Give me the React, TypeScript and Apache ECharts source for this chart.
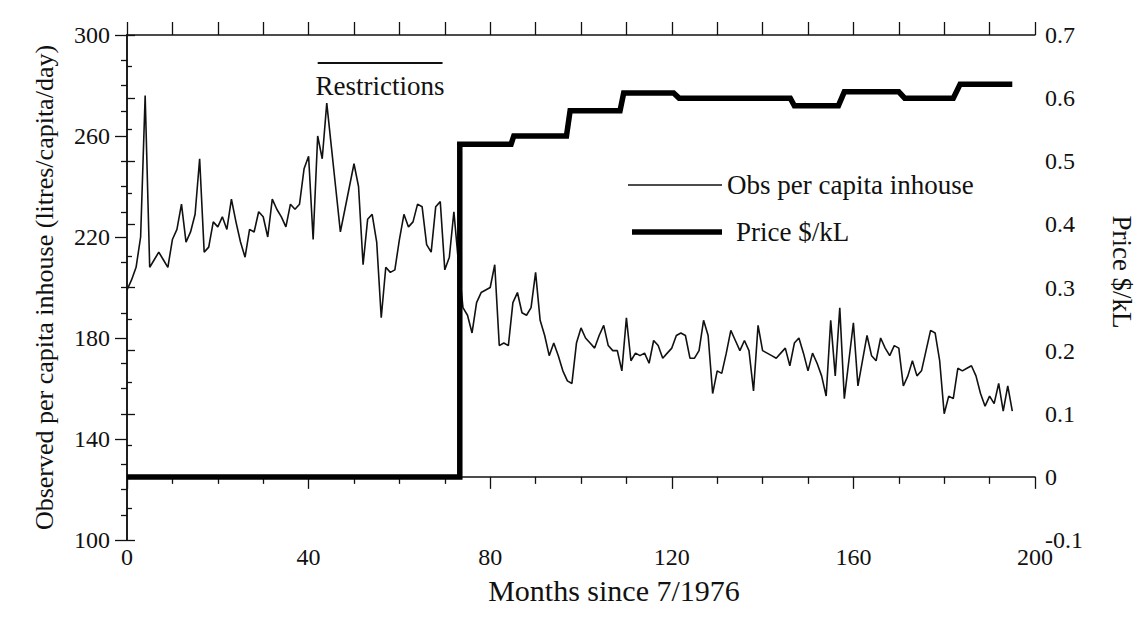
import React, { useEffect, useRef } from "react";
import * as echarts from "echarts";

// Observed per capita in-house use (litres/capita/day), monthly from month 0
const obsValues: number[] = [
  199, 203, 208, 220, 276, 208, 211, 214, 211, 208,
  219, 223, 233, 218, 222, 229, 251, 214, 216, 226,
  224, 228, 223, 235, 226, 218, 212, 223, 222, 230,
  228, 220, 235, 231, 228, 224, 233, 231, 233, 247,
  252, 219, 260, 251, 273, 256, 239, 222, 231, 240,
  249, 240, 209, 227, 229, 218, 188, 208, 206, 207,
  219, 229, 224, 226, 233, 232, 217, 214, 232, 234,
  207, 212, 230, 210, 192, 189, 182, 194, 198, 199,
  200, 209, 177, 178, 177, 194, 198, 190, 189, 192,
  206, 187, 181, 173, 178, 173, 167, 163, 162, 178,
  184, 180, 178, 176, 181, 185, 177, 175, 175, 167,
  188, 171, 174, 173, 174, 170, 179, 177, 172, 174,
  176, 181, 182, 181, 172, 172, 175, 187, 181, 158,
  167, 166, 174, 183, 179, 175, 179, 175, 159, 185,
  175, 174, 173, 172, 174, 176, 169, 178, 180, 174,
  167, 174, 170, 165, 157, 187, 165, 192, 156, 171,
  186, 161, 171, 181, 173, 171, 180, 176, 173, 177,
  176, 161, 165, 171, 165, 167, 175, 183, 182, 171,
  150, 157, 156, 168, 167, 168, 169, 165, 158, 153,
  157, 154, 162, 151, 161, 151,
];

// Price ($/kL) as step vertices: month and price
const priceMonths: number[] = [
  0, 73.3, 73.3, 84.6, 85.2, 96.8, 97.6, 108.6, 109.4, 120.4,
  121.6, 146.1, 147, 156.7, 158, 170, 171.3, 182, 183.5, 195,
];
const priceValues: number[] = [
  0, 0, 0.527, 0.527, 0.54, 0.54, 0.58, 0.58, 0.608, 0.608,
  0.6, 0.6, 0.588, 0.588, 0.61, 0.61, 0.6, 0.6, 0.622, 0.622,
];

// Restrictions period annotation
const restrictionMonths: number[] = [42, 69.5];
const restrictionLevel = 289;
const restrictionLabel = "Restrictions";

// Axes
const xRange: number[] = [0, 200];
const leftRange: number[] = [100, 300];
const rightRange: number[] = [-0.1, 0.7];

const seriesNames: string[] = ["Obs per capita inhouse", "Price $/kL"];
const xName = "Months since 7/1976";
const leftName = "Observed per capita inhouse (litres/capita/day)";
const rightName = "Price $/kL";

const FONT = "'Liberation Serif', 'Times New Roman', serif";
const INK = "#111";

export default function App() {
  const ref = useRef<HTMLDivElement>(null);

  useEffect(() => {
    if (!ref.current) return;
    const chart = echarts.init(ref.current, null, { renderer: "svg" });

    const axisLine = { show: true, lineStyle: { color: INK, width: 1.5 } };
    const tickStyle = { color: INK, width: 1.3 };
    const numStyle = { fontFamily: FONT, fontSize: 24, color: INK };
    const textStyle = { fontFamily: FONT, fontSize: 27, color: INK };

    chart.setOption({
      animation: false,
      backgroundColor: "#fff",
      grid: { left: 127, right: 104, top: 35, bottom: 78, containLabel: false },
      xAxis: [
        {
          type: "value",
          position: "bottom",
          min: xRange[0],
          max: xRange[1],
          interval: 40,
          axisLine,
          axisTick: { show: true, inside: false, length: 12, lineStyle: tickStyle },
          minorTick: { show: true, splitNumber: 4, length: 7, lineStyle: tickStyle },
          axisLabel: { ...numStyle, margin: 5 },
          splitLine: { show: false },
        },
        {
          type: "value",
          position: "top",
          min: xRange[0],
          max: xRange[1],
          interval: 10,
          axisLine,
          axisTick: { show: true, inside: false, length: 13, lineStyle: tickStyle },
          axisLabel: { show: false },
          splitLine: { show: false },
        },
      ],
      yAxis: [
        {
          type: "value",
          position: "left",
          min: leftRange[0],
          max: leftRange[1],
          interval: 40,
          axisLine,
          axisTick: { show: true, inside: false, length: 12, lineStyle: tickStyle },
          minorTick: { show: true, splitNumber: 4, length: 6, lineStyle: tickStyle },
          axisLabel: { ...numStyle, margin: 17 },
          splitLine: { show: false },
          name: leftName,
          nameLocation: "middle",
          nameRotate: 90,
          nameGap: 70,
          nameTextStyle: { ...textStyle, fontSize: 26 },
        },
        {
          type: "value",
          position: "right",
          min: rightRange[0],
          max: rightRange[1],
          interval: 0.1,
          axisLine,
          axisTick: { show: true, inside: false, length: 8, lineStyle: tickStyle },
          minorTick: { show: true, splitNumber: 2, length: 5, lineStyle: tickStyle },
          axisLabel: {
            ...numStyle,
            margin: 10,
            formatter: (v: number) => {
              const r = Math.round(v * 10) / 10;
              return Math.abs(r) < 1e-9 ? "0" : String(r);
            },
          },
          splitLine: { show: false },
        },
      ],
      series: [
        {
          name: seriesNames[0],
          type: "line",
          xAxisIndex: 0,
          yAxisIndex: 0,
          symbol: "none",
          data: obsValues.map((v, i) => [i, v]),
          lineStyle: { color: INK, width: 1.6 },
          markLine: {
            silent: true,
            symbol: "none",
            lineStyle: { color: INK, width: 2, type: "solid" },
            label: {
              show: true,
              position: "insideMiddleBottom",
              formatter: restrictionLabel,
              distance: 10,
              ...textStyle,
            },
            data: [
              [
                { coord: [restrictionMonths[0], restrictionLevel] },
                { coord: [restrictionMonths[1], restrictionLevel] },
              ],
            ],
          },
        },
        {
          name: seriesNames[1],
          type: "line",
          xAxisIndex: 0,
          yAxisIndex: 1,
          symbol: "none",
          data: priceMonths.map((m, i) => [m, priceValues[i]]),
          lineStyle: { color: "#000", width: 5.5, join: "miter" },
          z: 3,
        },
      ],
      graphic: [
        {
          type: "text",
          x: 614,
          y: 590,
          style: {
            text: xName,
            font: `30px ${FONT}`,
            fill: INK,
            align: "center",
            verticalAlign: "middle",
          },
        },
        {
          type: "text",
          x: 1122,
          y: 272,
          rotation: -Math.PI / 2,
          style: {
            text: rightName,
            font: `27px ${FONT}`,
            fill: INK,
            align: "center",
            verticalAlign: "middle",
          },
        },
        {
          type: "line",
          shape: { x1: 628, y1: 185, x2: 722, y2: 185 },
          style: { stroke: INK, lineWidth: 1.5 },
        },
        {
          type: "text",
          x: 727,
          y: 185,
          style: {
            text: seriesNames[0],
            font: `27px ${FONT}`,
            fill: INK,
            verticalAlign: "middle",
            align: "left",
          },
        },
        {
          type: "line",
          shape: { x1: 632, y1: 232, x2: 722, y2: 232 },
          style: { stroke: "#000", lineWidth: 5.5 },
        },
        {
          type: "text",
          x: 736,
          y: 232,
          style: {
            text: seriesNames[1],
            font: `27px ${FONT}`,
            fill: INK,
            verticalAlign: "middle",
            align: "left",
          },
        },
      ],
    });

    return () => chart.dispose();
  }, []);

  return (
    <div
      ref={ref}
      style={{ position: "fixed", left: 0, top: 0, width: 1139, height: 618, background: "#fff" }}
    />
  );
}
